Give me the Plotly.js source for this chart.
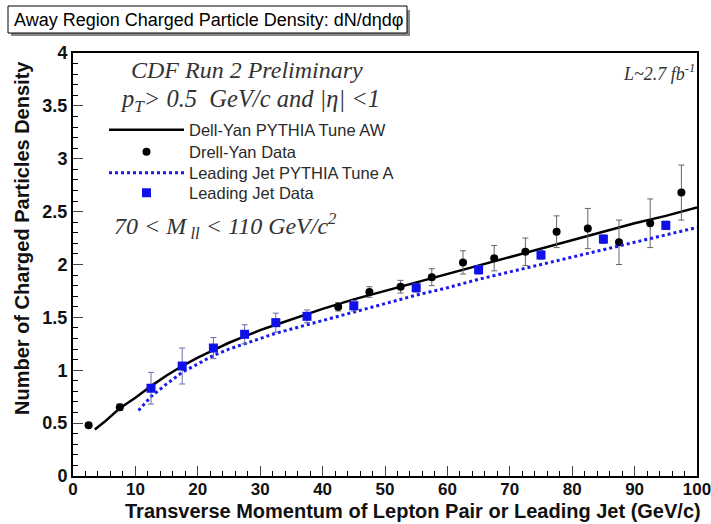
<!DOCTYPE html>
<html>
<head>
<meta charset="utf-8">
<script src="https://cdn.plot.ly/plotly-3.0.1.min.js"></script>
<style>html,body{margin:0;padding:0;background:#fff;}#plot{width:711px;height:524px;}</style>
</head>
<body>
<div id="plot"></div>
<script>
// Drell-Yan data (black circles)
const dyX = [2.5, 7.5, 42.5, 47.5, 52.5, 57.5, 62.5, 67.5, 72.5, 77.5, 82.5, 87.5, 92.5, 97.5];
const dyY = [0.48, 0.65, 1.60, 1.74, 1.79, 1.88, 2.02, 2.06, 2.12, 2.31, 2.34, 2.21, 2.39, 2.68];
const dyErr = [0.02, 0.03, 0.04, 0.05, 0.06, 0.08, 0.11, 0.12, 0.13, 0.15, 0.19, 0.21, 0.23, 0.26];

// Leading Jet data (blue squares)
const ljX = [12.5, 17.5, 22.5, 27.5, 32.5, 37.5, 45, 55, 65, 75, 85, 95];
const ljY = [0.83, 1.04, 1.21, 1.34, 1.45, 1.51, 1.61, 1.78, 1.95, 2.09, 2.24, 2.37];
const ljErr = [0.15, 0.17, 0.1, 0.09, 0.09, 0.06, 0.05, 0.04, 0.04, 0.04, 0.04, 0.04];

// Drell-Yan PYTHIA Tune AW curve
const awX = [3.5, 5, 7.5, 10, 12.5, 15, 17.5, 20, 22.5, 25, 27.5, 30, 32.5, 35, 37.5, 40, 45, 50, 55, 60, 65, 70, 75, 80, 85, 90, 95, 100];
const awY = [0.44, 0.51, 0.64, 0.74, 0.85, 0.95, 1.04, 1.12, 1.19, 1.26, 1.32, 1.38, 1.43, 1.48, 1.53, 1.58, 1.67, 1.75, 1.83, 1.91, 1.99, 2.07, 2.15, 2.23, 2.31, 2.39, 2.46, 2.54];

// Leading Jet PYTHIA Tune A curve
const taX = [10.5, 12.5, 15, 17.5, 20, 22.5, 25, 27.5, 30, 32.5, 35, 37.5, 40, 45, 50, 55, 60, 65, 70, 75, 80, 85, 90, 95, 100];
const taY = [0.62, 0.75, 0.87, 0.98, 1.06, 1.14, 1.20, 1.25, 1.30, 1.35, 1.39, 1.43, 1.47, 1.55, 1.63, 1.71, 1.78, 1.86, 1.93, 2.00, 2.07, 2.14, 2.21, 2.28, 2.35];

const legendNames = ["Dell-Yan PYTHIA Tune AW", "Drell-Yan Data", "Leading Jet PYTHIA Tune A", "Leading Jet Data"];

const SANS = 'Liberation Sans, Arial, sans-serif';
const SERIF = 'Liberation Serif, Times New Roman, serif';

const traces = [
  {x: awX, y: awY, type: 'scatter', mode: 'lines', name: legendNames[0], legend: 'legend',
   line: {color: '#000000', width: 2.5}},
  {x: dyX, y: dyY, type: 'scatter', mode: 'markers', name: legendNames[1], legend: 'legend2',
   marker: {symbol: 'circle', size: 8, color: '#000000'},
   error_y: {type: 'data', array: dyErr, visible: true, color: '#666666', thickness: 1, width: 3}},
  {x: taX, y: taY, type: 'scatter', mode: 'lines', name: legendNames[2], legend: 'legend3',
   line: {color: '#1a1aee', width: 3, dash: 'dot'}},
  {x: ljX, y: ljY, type: 'scatter', mode: 'markers', name: legendNames[3], legend: 'legend4',
   marker: {symbol: 'square', size: 9, color: '#1010e8'},
   error_y: {type: 'data', array: ljErr, visible: true, color: '#6a6ab0', thickness: 1, width: 3}}
];

const L = 73, R = 697, T = 53, B = 476;
const px = v => (v - L) / (R - L);
const py = v => (B - v) / (B - T);

function leg(rowY) {
  return {x: px(104), y: py(rowY), xanchor: 'left', yanchor: 'middle',
    bgcolor: 'rgba(0,0,0,0)', itemwidth: 75,
    font: {size: 16.5, color: '#2a2a2a', family: SANS}};
}

const layout = {
  width: 711, height: 524,
  margin: {l: 73, r: 14, t: 53, b: 48},
  paper_bgcolor: '#ffffff', plot_bgcolor: '#ffffff',
  font: {family: SANS, color: '#111111'},
  showlegend: true,
  legend: leg(130), legend2: leg(152), legend3: leg(173), legend4: leg(193),
  xaxis: {range: [0, 100], dtick: 10, tick0: 0, ticks: 'inside', ticklen: 10, tickwidth: 1,
    showline: true, mirror: true, linecolor: '#000', linewidth: 2, showgrid: false, zeroline: false,
    ticklabeloverflow: 'allow', ticklabelstandoff: -3,
    tickfont: {size: 17, family: SANS, color: '#111', weight: 'bold'},
    minor: {dtick: 2, ticks: 'inside', ticklen: 5, tickcolor: '#000', showgrid: false}},
  yaxis: {range: [0, 4], dtick: 0.5, tick0: 0, ticks: 'inside', ticklen: 10, tickwidth: 1,
    showline: true, mirror: true, linecolor: '#000', linewidth: 2, showgrid: false, zeroline: false,
    tickfont: {size: 18, family: SANS, color: '#111', weight: 'bold'},
    minor: {dtick: 0.1, ticks: 'inside', ticklen: 5, tickcolor: '#000', showgrid: false}},
  shapes: [
    {type: 'rect', xref: 'paper', yref: 'paper', x0: px(11), x1: px(410), y0: py(10), y1: py(36),
     fillcolor: '#888888', line: {width: 0}, layer: 'above'},
    {type: 'rect', xref: 'paper', yref: 'paper', x0: px(8), x1: px(407), y0: py(6), y1: py(33),
     fillcolor: '#ffffff', line: {color: '#000000', width: 1}, layer: 'above'}
  ],
  annotations: [
    {xref: 'paper', yref: 'paper', x: px(12), y: py(20), xanchor: 'left', yanchor: 'middle',
     text: 'Away Region Charged Particle Density: dN/dηdφ', showarrow: false,
     font: {size: 18, family: SANS, color: '#000'}},
    {xref: 'paper', yref: 'paper', x: px(413), y: py(511), xanchor: 'center', yanchor: 'middle',
     text: 'Transverse Momentum of Lepton Pair or Leading Jet (GeV/c)', showarrow: false,
     font: {size: 20, family: SANS, color: '#111', weight: 'bold'}},
    {xref: 'paper', yref: 'paper', x: px(22), y: py(238), xanchor: 'center', yanchor: 'middle',
     textangle: -90, text: 'Number of Charged Particles Density', showarrow: false,
     font: {size: 20, family: SANS, color: '#111', weight: 'bold'}},
    {xref: 'x', yref: 'y', x: 27.9, y: 3.84, text: '<i>CDF Run 2 Preliminary</i>', showarrow: false,
     font: {size: 24, family: SERIF, color: '#333'}},
    {xref: 'x', yref: 'y', x: 28.3, y: 3.55, text: '<i>p<sub>T</sub>&gt; 0.5  GeV/c and |η| &lt;1</i>', showarrow: false,
     font: {size: 24.5, family: SERIF, color: '#333'}},
    {xref: 'x', yref: 'y', x: 100, y: 3.82, xanchor: 'right', text: '<i>L~2.7 fb<sup>-1</sup></i>', showarrow: false,
     font: {size: 18, family: SERIF, color: '#333'}},
    {xref: 'x', yref: 'y', x: 24.5, y: 2.36, text: '<i>70 &lt; M<sub> ll</sub> &lt; 110 GeV/c<sup>2</sup></i>', showarrow: false,
     font: {size: 24, family: SERIF, color: '#333'}}
  ]
};

Plotly.newPlot('plot', traces, layout, {displayModeBar: false, staticPlot: true});
</script>
</body>
</html>
